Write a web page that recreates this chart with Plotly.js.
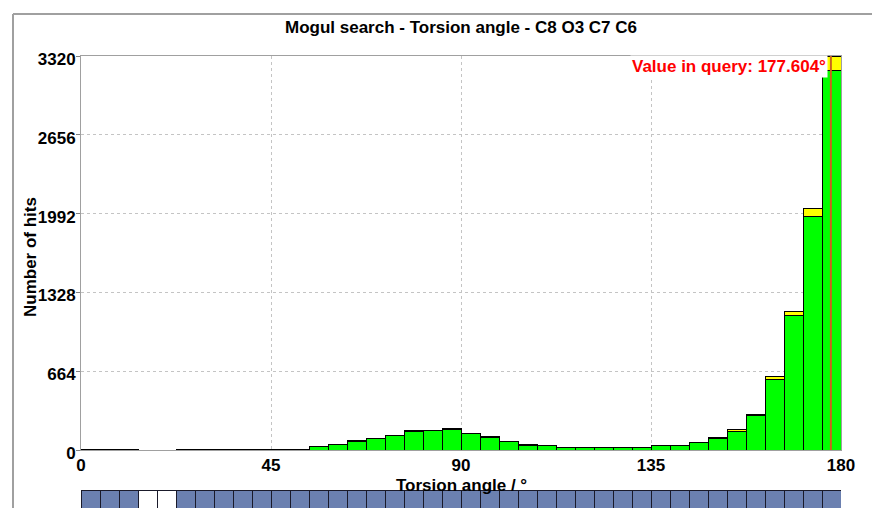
<!DOCTYPE html>
<html>
<head>
<meta charset="utf-8">
<script src="https://cdn.plot.ly/plotly-3.0.1.min.js"></script>
<style>html,body{margin:0;padding:0;background:#fff}#chart{width:872px;height:508px}</style>
</head>
<body>
<div id="chart"></div>
<script>
// Bin centres (degrees), 40 bins of 4.5°
const binCenters = [2.25,6.75,11.25,15.75,20.25,24.75,29.25,33.75,38.25,42.75,
  47.25,51.75,56.25,60.75,65.25,69.75,74.25,78.75,83.25,87.75,
  92.25,96.75,101.25,105.75,110.25,114.75,119.25,123.75,128.25,132.75,
  137.25,141.75,146.25,150.75,155.25,159.75,164.25,168.75,173.25,177.75];
const greenHits = [2,2,2,0,0,2,2,3,6,6,
  6,8,28,48,68,101,121,160,163,170,
  141,104,68,40,42,22,22,22,22,22,
  36,38,65,98,160,290,597,1131,1968,3200];
const yellowHits = [0,0,0,0,0,0,0,0,0,0,
  0,0,0,0,8,0,0,6,0,7,
  0,6,0,5,0,0,0,0,0,0,
  5,0,0,7,10,9,25,33,65,120];
const queryValue = 177.604;
const yTicks = [0,664,1328,1992,2656,3320];
const xTicks = [0,45,90,135,180];

const totals = greenHits.map((g,i)=>g+yellowHits[i]);
const stripColors = totals.map(t => t === 0 ? '#ffffff' : '#6b80b0');
const stripOnes = binCenters.map(()=>1);

const F = 'Liberation Sans, Arial, sans-serif';
const FS = 17;

const traces = [
  {type:'bar', x:binCenters, y:greenHits, width:4.5,
   marker:{color:'#00ff00', line:{color:'#000000', width:1}}, hoverinfo:'skip'},
  {type:'bar', x:binCenters, y:yellowHits, width:4.5,
   marker:{color:'#ffff00', line:{color:'#000000', width:1}}, hoverinfo:'skip'},
  {type:'scatter', mode:'lines', x:[queryValue,queryValue], y:[0,yTicks[yTicks.length-1]],
   line:{color:'#c8641e', width:2}, hoverinfo:'skip'},
  {type:'bar', x:binCenters, y:stripOnes, width:4.5, xaxis:'x2', yaxis:'y2',
   marker:{color:stripColors, line:{color:'#1a1a2a', width:1}}, hoverinfo:'skip'}
];

const layout = {
  width:872, height:508,
  margin:{l:81, r:31, t:56, b:0},
  paper_bgcolor:'#ffffff', plot_bgcolor:'#ffffff',
  barmode:'stack', bargap:0, showlegend:false,
  title:{text:'Mogul search - Torsion angle - C8 O3 C7 C6',
    font:{family:F, size:FS, color:'#000', weight:'bold'},
    x:0.5, xref:'paper', y:1-27/508, yref:'container', yanchor:'middle'},
  xaxis:{range:[0,180], tickvals:xTicks, ticktext:xTicks.map(String),
    showgrid:true, gridcolor:'#c4c4c4', griddash:'dot', gridwidth:1,
    showline:true, linecolor:'#a0a0a0', linewidth:1, mirror:true,
    ticks:'', zeroline:false, anchor:'y', ticklabelstandoff:0,
    tickfont:{family:F, size:FS, color:'#000', weight:'bold'}},
  yaxis:{range:[0,3320], tickvals:yTicks, ticktext:yTicks.map(String),
    domain:[(508-450)/452, 1],
    showgrid:true, gridcolor:'#c4c4c4', griddash:'dot', gridwidth:1,
    showline:true, linecolor:'#a0a0a0', linewidth:1, mirror:true,
    ticks:'outside', ticklen:4, tickcolor:'#808080', zeroline:false,
    ticklabelstandoff:-3, ticklabelshift:3,
    tickfont:{family:F, size:FS, color:'#000', weight:'bold'}},
  xaxis2:{range:[0,180], anchor:'y2', visible:false, showgrid:false},
  yaxis2:{range:[0,1], domain:[0,(508-490)/452], visible:false, showgrid:false},
  annotations:[
    {text:'Torsion angle / °', xref:'paper', yref:'paper', x:0.5, y:(508-485)/452,
     xanchor:'center', yanchor:'middle', showarrow:false,
     font:{family:F, size:FS, color:'#000', weight:'bold'}},
    {text:'Number of hits', xref:'paper', yref:'paper', x:(30-81)/760, y:(508-257)/452,
     xanchor:'center', yanchor:'middle', textangle:-90, showarrow:false,
     font:{family:F, size:FS, color:'#000', weight:'bold'}},
    {text:'Value in query: 177.604°', xref:'x', yref:'paper', x:176.9, y:(508-66)/452,
     xanchor:'right', yanchor:'middle', showarrow:false, bgcolor:'#ffffff', borderpad:1,
     font:{family:F, size:FS, color:'#ff0000', weight:'bold'}}
  ],
  shapes:[
    {type:'line', xref:'paper', yref:'paper', x0:(13-81)/760, x1:(13-81)/760,
     y0:1+(56-14)/452, y1:-0.1, line:{color:'#a0a0a0', width:2}},
    {type:'line', xref:'paper', yref:'paper', x0:(13-81)/760, x1:1.1,
     y0:1+(56-14)/452, y1:1+(56-14)/452, line:{color:'#a0a0a0', width:2}}
  ]
};

Plotly.newPlot('chart', traces, layout, {staticPlot:true, displayModeBar:false});
</script>
</body>
</html>
